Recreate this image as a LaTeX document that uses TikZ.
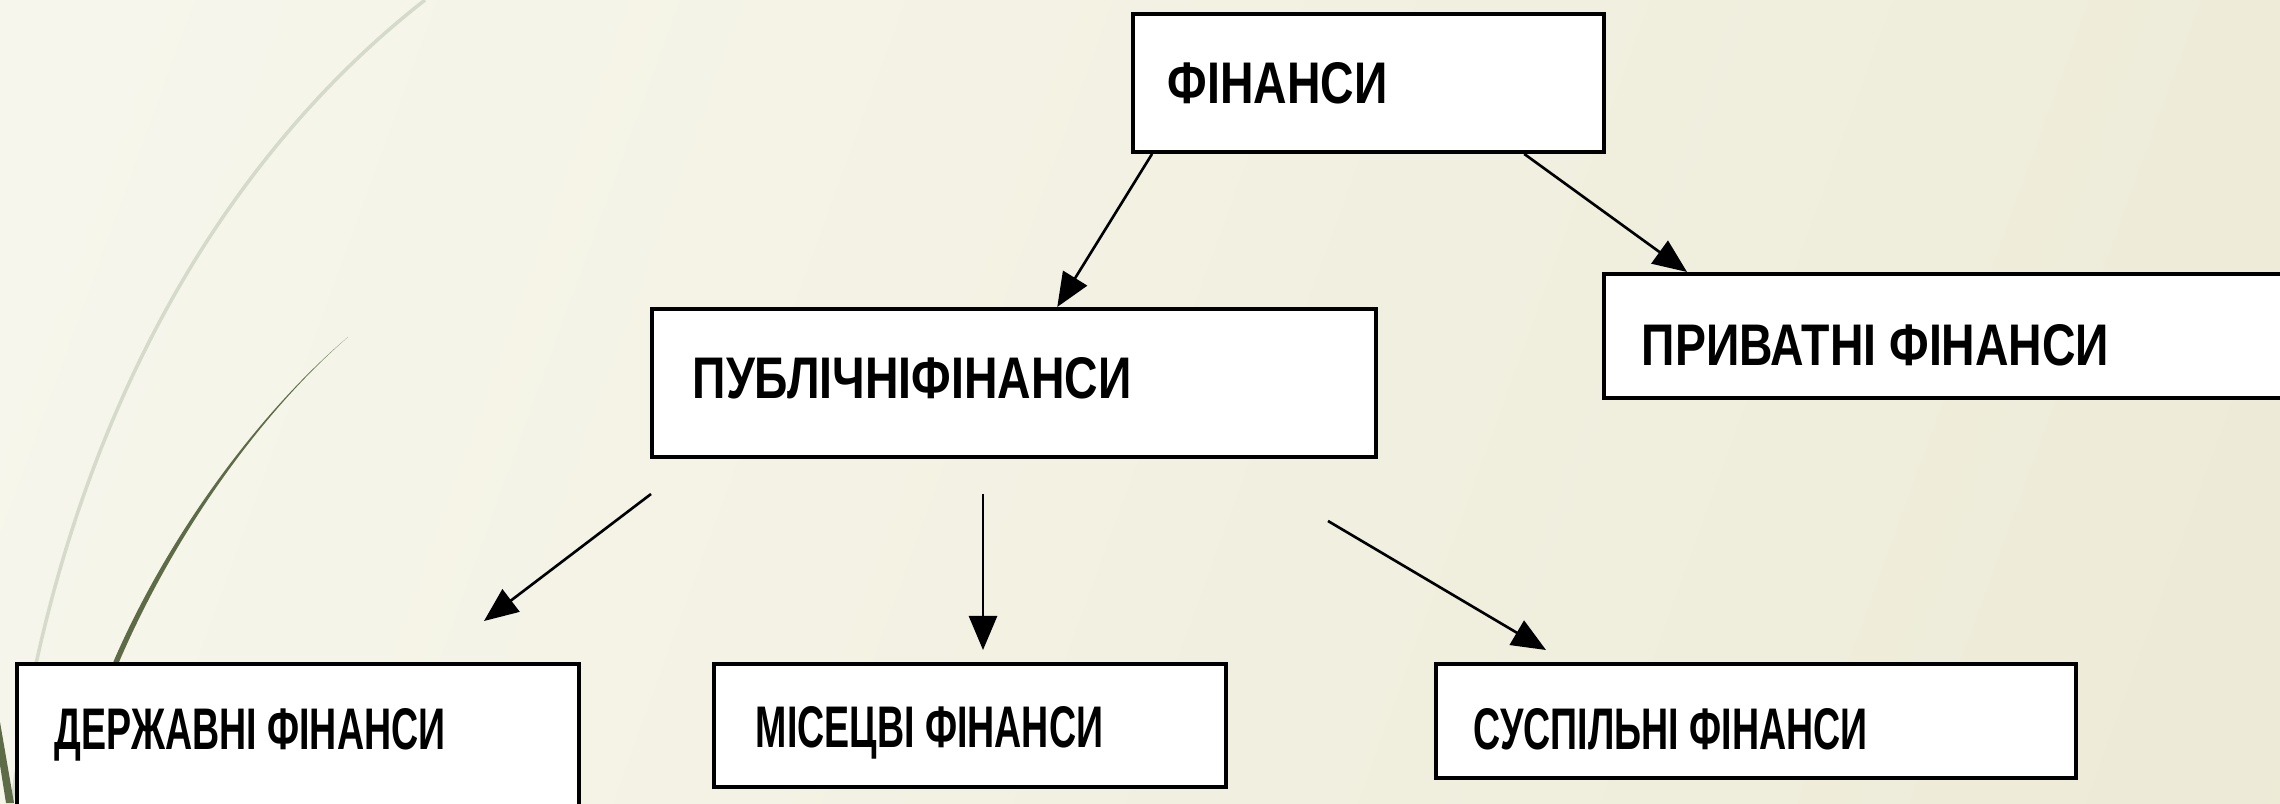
\documentclass[tikz,border=0pt]{standalone}
\usepackage{fontspec}
\newfontfamily\lblfont[FakeStretch=0.79]{Liberation Sans}
\newfontfamily\lblfontn[FakeStretch=0.64]{Liberation Sans}
\usetikzlibrary{arrows.meta}
\definecolor{bg0}{HTML}{FBFBF7}
\definecolor{bg1}{HTML}{F4F3E6}
\definecolor{bg2}{HTML}{EEECD9}
\definecolor{bg3}{HTML}{E8E6CD}
\definecolor{wisplight}{HTML}{D5DACB}
\definecolor{wispdark}{HTML}{5D6B47}
\pgfdeclarehorizontalshading{bgshade}{100bp}{color(0bp)=(bg0); color(40bp)=(bg1); color(70bp)=(bg2); color(100bp)=(bg3)}
\tikzset{
  box/.style={draw=black, line width=1.1pt, fill=white, rectangle, inner sep=0pt, anchor=north west},
  lbl/.style={anchor=base west, inner sep=0pt, font={\lblfont\bfseries\fontsize{16.7pt}{20pt}\selectfont}},
  lbln/.style={anchor=base west, inner sep=0pt, font={\lblfontn\bfseries\fontsize{16.7pt}{20pt}\selectfont}},
  arr/.style={-{Triangle[length=3.4mm,width=2.8mm]}, line width=0.75pt, black}
}
\begin{document}
\begin{tikzpicture}[x=0.01cm,y=-0.01cm]
\useasboundingbox (0,0) rectangle (2280,803);
\clip (0,0) rectangle (2280,803);
\shade[shading=bgshade, shading angle=-20] (-200,-200) rectangle (2480,1003);
% wisps
\draw[wisplight, line width=1pt] (425,0) .. controls (220,160) and (60,430) .. (12,803);
\fill[wispdark] (348,337) .. controls (250,420) and (150,560) .. (98,700) -- (103,702) .. controls (155,562) and (251,421) .. (348,337) -- cycle;
\fill[wispdark] (0,722) -- (14,803) -- (6,803) -- (0,765) -- cycle;
% boxes
\node[box, minimum width=4.71cm, minimum height=1.38cm] (fin) at (1131,12) {};
\node[box, minimum width=7.24cm, minimum height=1.48cm] (pub) at (650,307) {};
\node[box, minimum width=7.20cm, minimum height=1.24cm] (priv) at (1602,272) {};
\node[box, minimum width=5.62cm, minimum height=1.42cm] (derz) at (15,662) {};
\node[box, minimum width=5.12cm, minimum height=1.23cm] (mis) at (712,662) {};
\node[box, minimum width=6.40cm, minimum height=1.14cm] (susp) at (1434,662) {};
% labels
\node[lbl] (finT) at (1167,103) {ФІНАНСИ};
\node[lbl] (pubT) at (692,398) {ПУБЛІЧНІФІНАНСИ};
\node[lbl] (privT) at (1641,365) {ПРИВАТНІ ФІНАНСИ};
\node[lbln] (derzT) at (54,749) {ДЕРЖАВНІ ФІНАНСИ};
\node[lbln] (misT) at (755,747) {МІСЕЦВІ ФІНАНСИ};
\node[lbln] (suspT) at (1473,749) {СУСПІЛЬНІ ФІНАНСИ};
% free arrow ends
\coordinate (a3s) at (651,494);
\coordinate (a3e) at (484,621);
\coordinate (a4s) at (983,494);
\coordinate (a4e) at (983,650);
\coordinate (a5s) at (1328,521);
\coordinate (a5e) at (1546,650);
% arrows
\draw[arr] ([xshift=0.21cm]fin.south west) -- ([xshift=4.07cm]pub.north west);
\draw[arr] ([xshift=3.93cm]fin.south west) -- ([xshift=0.85cm]priv.north west);
\draw[arr] (a3s) -- (a3e);
\draw[arr] (a4s) -- (a4e);
\draw[arr] (a5s) -- (a5e);
\end{tikzpicture}
\end{document}
